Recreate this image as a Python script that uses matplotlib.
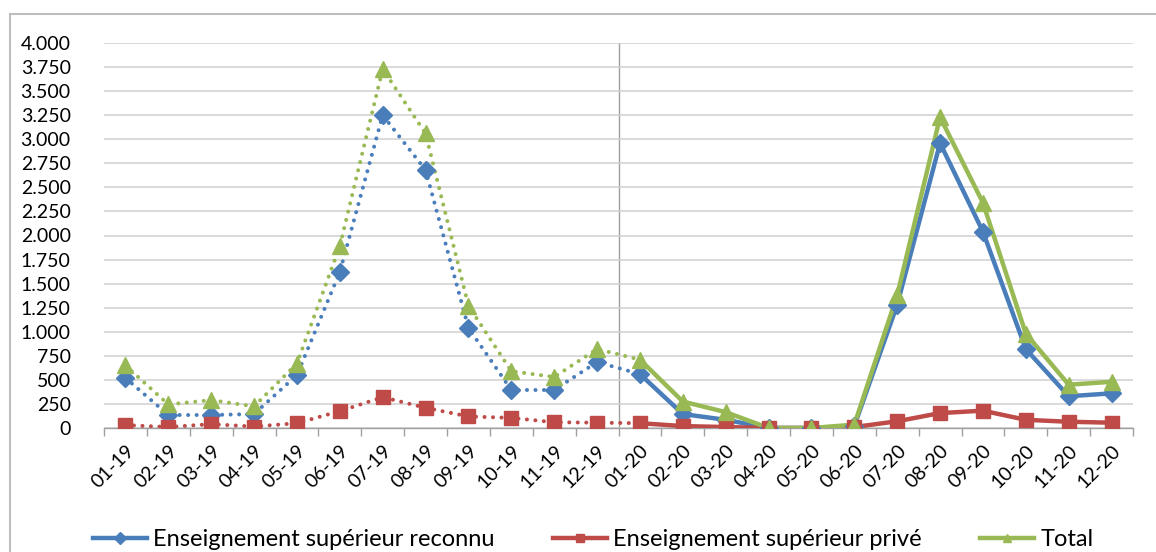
import matplotlib
matplotlib.use("Agg")
import matplotlib.pyplot as plt
from matplotlib.ticker import FuncFormatter, MultipleLocator
from matplotlib.lines import Line2D

months = ["01-19", "02-19", "03-19", "04-19", "05-19", "06-19", "07-19", "08-19",
          "09-19", "10-19", "11-19", "12-19", "01-20", "02-20", "03-20", "04-20",
          "05-20", "06-20", "07-20", "08-20", "09-20", "10-20", "11-20", "12-20"]
reconnu = [520, 135, 135, 145, 550, 1620, 3250, 2680, 1040, 395, 395, 685,
           560, 145, 85, 0, 0, 20, 1280, 2960, 2040, 820, 330, 360]
prive = [30, 10, 40, 15, 50, 175, 320, 210, 120, 105, 60, 55,
         50, 20, 10, 0, 0, 10, 70, 155, 180, 85, 65, 55]
total = [650, 245, 290, 225, 670, 1890, 3730, 3060, 1270, 590, 530, 820,
         710, 275, 165, 0, 0, 35, 1380, 3230, 2340, 980, 450, 480]

series = [
    ("Enseignement supérieur reconnu", reconnu, "#4A7EBB", "D", 9),
    ("Enseignement supérieur privé", prive, "#BE4B48", "s", 10),
    ("Total", total, "#98B954", "^", 11),
]

plt.rcParams["font.family"] = ["Lato", "DejaVu Sans"]

fig = plt.figure(figsize=(11.56, 5.52), dpi=100)
ax = fig.add_axes([104 / 1156, 1 - 428 / 552, (1133 - 104) / 1156, (428 - 43) / 552])

x = list(range(len(months)))
split = 12  # 2019 dotted up to 01-20, 2020 solid
for name, vals, col, mk, ms in series:
    ax.plot(x[:split + 1], vals[:split + 1], color=col, lw=2.9,
            linestyle=(0, (0.01, 2.1)), dash_capstyle="round", zorder=3)
    ax.plot(x[split:], vals[split:], color=col, lw=3.2, solid_joinstyle="miter", zorder=3)
    ax.plot(x, vals, linestyle="none", marker=mk, ms=ms, color=col, zorder=4)

ax.set_xlim(-0.5, len(months) - 0.5)
ax.set_ylim(0, 4000)
ax.yaxis.set_major_locator(MultipleLocator(250))
ax.yaxis.set_major_formatter(FuncFormatter(lambda v, p: f"{int(v):,}".replace(",", ".")))
ax.grid(axis="y", color="#D0D0D0", lw=1.1, zorder=0)
ax.axvline(split - 0.5, color="#A0A0A0", lw=1.0, zorder=1)

ax.set_xticks(x)
ax.set_xticklabels(months, rotation=45, ha="right", rotation_mode="anchor", fontsize=14)
ax.set_xticks([i - 0.5 for i in range(len(months) + 1)], minor=True)
ax.tick_params(axis="x", which="major", length=0, pad=10)
ax.tick_params(axis="x", which="minor", length=6, color="#A0A0A0", width=1.0)
ax.tick_params(axis="y", length=0, pad=24, labelsize=14)

for s in ["top", "right", "left"]:
    ax.spines[s].set_visible(False)
ax.spines["bottom"].set_color("#A0A0A0")
ax.spines["bottom"].set_linewidth(1.0)

# chart frame (left and top edges visible in the reference)
fig.add_artist(Line2D([10 / 1156, 10 / 1156], [0, 1 - 14 / 552], transform=fig.transFigure,
                      color="#BDBDBD", lw=1.5))
fig.add_artist(Line2D([10 / 1156, 1], [1 - 14 / 552, 1 - 14 / 552], transform=fig.transFigure,
                      color="#BDBDBD", lw=1.5))

# one legend per entry, placed where the reference puts them
legend_x = [93, 553, 980]
for (name, _, col, mk, _), lx in zip(series, legend_x):
    h = Line2D([], [], color=col, lw=3.2, marker=mk, ms=6)
    fig.legend([h], [name], loc="center left", bbox_to_anchor=(lx / 1156, 0.022),
               frameon=False, fontsize=17, handlelength=2.3, handletextpad=0.25,
               borderpad=0, borderaxespad=0)

fig.savefig("out.png", dpi=100)
